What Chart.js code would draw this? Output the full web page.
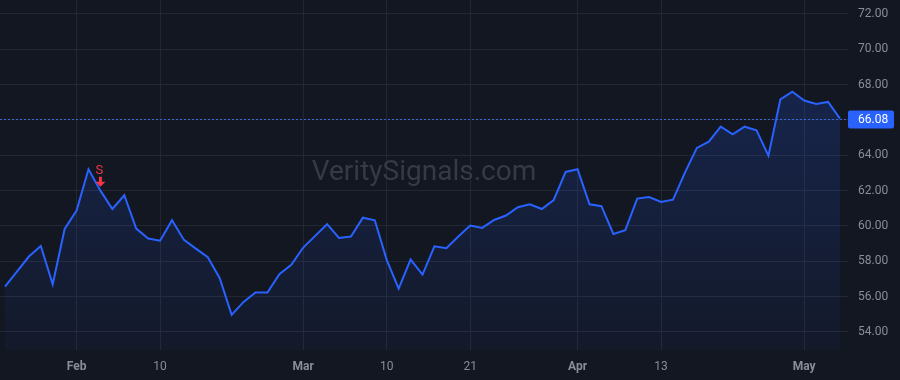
<!DOCTYPE html>
<html>
<head>
<meta charset="utf-8">
<script src="https://cdn.jsdelivr.net/npm/chart.js@4"></script>
<style>
  html, body { margin: 0; padding: 0; background: #131722; }
  #wrap { width: 900px; height: 380px; position: relative; }
</style>
</head>
<body>
<div id="wrap"><canvas id="c" width="900" height="380"></canvas></div>
<script>
// Trading days (2023), Jan 24 .. May 4
const dates = [
  "2023-01-24","2023-01-25","2023-01-26","2023-01-27","2023-01-30","2023-01-31",
  "2023-02-01","2023-02-02","2023-02-03","2023-02-06","2023-02-07","2023-02-08","2023-02-09","2023-02-10",
  "2023-02-13","2023-02-14","2023-02-15","2023-02-16","2023-02-17","2023-02-21","2023-02-22","2023-02-23","2023-02-24","2023-02-27","2023-02-28",
  "2023-03-01","2023-03-02","2023-03-03","2023-03-06","2023-03-07","2023-03-08","2023-03-09","2023-03-10",
  "2023-03-13","2023-03-14","2023-03-15","2023-03-16","2023-03-17","2023-03-20","2023-03-21","2023-03-22",
  "2023-03-23","2023-03-24","2023-03-27","2023-03-28","2023-03-29","2023-03-30","2023-03-31",
  "2023-04-03","2023-04-04","2023-04-05","2023-04-06","2023-04-10","2023-04-11","2023-04-12","2023-04-13",
  "2023-04-14","2023-04-17","2023-04-18","2023-04-19","2023-04-20","2023-04-21","2023-04-24","2023-04-25",
  "2023-04-26","2023-04-27","2023-04-28","2023-05-01","2023-05-02","2023-05-03","2023-05-04"
];
const prices = [
  56.57, 57.42, 58.27, 58.87, 56.70, 59.83,
  60.87, 63.21, 62.00, 60.96, 61.74, 59.85, 59.29, 59.17,
  60.32, 59.21, 58.72, 58.23, 57.04, 54.97, 55.70, 56.23, 56.23, 57.27, 57.80,
  58.78, 59.44, 60.10, 59.32, 59.40, 60.47, 60.32, 58.08,
  56.45, 58.10, 57.25, 58.85, 58.74, 59.40, 60.02, 59.89,
  60.34, 60.59, 61.06, 61.23, 60.96, 61.47, 63.06,
  63.21, 61.23, 61.12, 59.55, 59.76, 61.55, 61.64, 61.36,
  61.49, 63.02, 64.42, 64.77, 65.62, 65.19, 65.62, 65.42,
  63.98, 67.17, 67.60, 67.10, 66.91, 67.02, 66.08
];
// x-axis tick labels (date -> label)
const tickDates  = ["2023-02-01","2023-02-10","2023-03-01","2023-03-10","2023-03-21","2023-04-03","2023-04-13","2023-05-01"];
const tickLabels = ["Feb","10","Mar","10","21","Apr","13","May"];
const tickBold   = [true,false,true,false,false,true,false,true];
// y-axis tick values
const yTicks = [54,56,58,60,62,64,66,68,70,72];
// signals
const signalDates  = ["2023-02-03"];
const signalLabels = ["S"];
const watermark = "VeritySignals.com";

const FONT = "-apple-system, 'Trebuchet MS', Roboto, Ubuntu, 'Liberation Sans', sans-serif";
const points = prices.map((v, i) => ({ x: i, y: v }));
const tickIdx = tickDates.map(d => dates.indexOf(d));

const watermarkPlugin = {
  id: 'wm',
  beforeDatasetsDraw(chart) {
    const { ctx, chartArea } = chart;
    ctx.save();
    ctx.font = "28px " + FONT;
    ctx.fillStyle = "#363a45";
    ctx.textAlign = "center";
    ctx.textBaseline = "middle";
    ctx.fillText(watermark, (chartArea.left + chartArea.right) / 2, 173);
    ctx.restore();
  }
};

const overlayPlugin = {
  id: 'overlay',
  afterDatasetsDraw(chart) {
    const { ctx, chartArea, scales } = chart;
    const last = prices[prices.length - 1];
    const y = Math.round(scales.y.getPixelForValue(last)) + 0.5;
    ctx.save();
    // price line
    ctx.strokeStyle = "rgba(60,110,240,0.85)";
    ctx.lineWidth = 1;
    ctx.setLineDash([2, 2]);
    ctx.beginPath();
    ctx.moveTo(chartArea.left, y);
    ctx.lineTo(chartArea.right, y);
    ctx.stroke();
    ctx.setLineDash([]);
    // price label
    const bx = chartArea.right, bw = 46, bh = 18;
    ctx.fillStyle = "#2962ff";
    ctx.beginPath();
    ctx.roundRect(bx, y - bh / 2, bw, bh, 2);
    ctx.fill();
    ctx.fillStyle = "#ffffff";
    ctx.font = "12px " + FONT;
    ctx.textAlign = "left";
    ctx.textBaseline = "middle";
    ctx.fillText(last.toFixed(2), bx + 10, y + 0.5);
    // signals
    signalDates.forEach((d, k) => {
      const i = dates.indexOf(d);
      const px = scales.x.getPixelForValue(i);
      const py = scales.y.getPixelForValue(prices[i]);
      ctx.fillStyle = "#f23645";
      const tip = py - 4;
      ctx.beginPath();
      ctx.moveTo(px - 1.5, tip - 10);
      ctx.lineTo(px + 1.5, tip - 10);
      ctx.lineTo(px + 1.5, tip - 5);
      ctx.lineTo(px + 5, tip - 5);
      ctx.lineTo(px, tip);
      ctx.lineTo(px - 5, tip - 5);
      ctx.lineTo(px - 1.5, tip - 5);
      ctx.closePath();
      ctx.fill();
      ctx.font = "13px " + FONT;
      ctx.textAlign = "center";
      ctx.textBaseline = "alphabetic";
      ctx.fillText(signalLabels[k], px - 1, tip - 13);
    });
    ctx.restore();
  }
};

new Chart(document.getElementById('c'), {
  type: 'line',
  data: {
    datasets: [{
      data: points,
      borderColor: '#2962ff',
      borderWidth: 2,
      pointRadius: 0,
      tension: 0,
      fill: 'start',
      backgroundColor(context) {
        const { chart } = context;
        const ca = chart.chartArea;
        if (!ca) return 'rgba(41,98,255,0.15)';
        const g = chart.ctx.createLinearGradient(0, ca.top, 0, ca.bottom);
        g.addColorStop(0, 'rgba(41,98,255,0.24)');
        g.addColorStop(1, 'rgba(41,98,255,0.04)');
        return g;
      }
    }]
  },
  options: {
    responsive: false,
    animation: false,
    events: [],
    layout: { padding: 0 },
    plugins: { legend: { display: false }, tooltip: { enabled: false } },
    scales: {
      x: {
        type: 'linear',
        min: -0.42,
        max: 70.67,
        grid: { color: '#232733', drawTicks: false, lineWidth: 1 },
        border: { display: false },
        afterBuildTicks(scale) { scale.ticks = tickIdx.map(v => ({ value: v })); },
        afterFit(scale) { scale.height = 30; scale.paddingLeft = 0; scale.paddingRight = 0; },
        ticks: {
          autoSkip: false,
          maxRotation: 0,
          padding: 10,
          color: '#8a8d96',
          font(ctx) {
            const k = ctx.index;
            return { family: FONT, size: 12, weight: tickBold[k] ? 'bold' : 'normal' };
          },
          callback(value, index) { return tickLabels[index]; }
        }
      },
      y: {
        position: 'right',
        min: 52.98,
        max: 72.79,
        grid: { color: '#232733', drawTicks: false, lineWidth: 1 },
        border: { display: false },
        afterBuildTicks(scale) { scale.ticks = yTicks.map(v => ({ value: v })); },
        afterFit(scale) { scale.width = 52; scale.paddingTop = 0; scale.paddingBottom = 0; },
        ticks: {
          padding: 10,
          color: '#8a8d96',
          font: { family: FONT, size: 12 },
          callback(v) { return Number(v).toFixed(2); }
        }
      }
    }
  },
  plugins: [watermarkPlugin, overlayPlugin]
});
</script>
</body>
</html>
